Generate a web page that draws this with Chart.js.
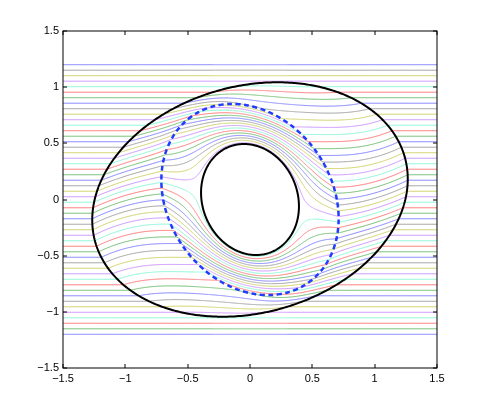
<!DOCTYPE html>
<html>
<head>
<meta charset="utf-8">
<script src="https://cdn.jsdelivr.net/npm/chart.js@4.4.1/dist/chart.umd.min.js"></script>
<style>
html, body { margin: 0; padding: 0; background: #fff; }
#wrap { width: 485px; height: 415px; }
</style>
</head>
<body>
<div id="wrap"><canvas id="streamChart" width="485" height="415"></canvas></div>
<script>
// far-field heights of the 50 streamlines, bottom to top
const levels = [
    -1.2, -1.151, -1.102, -1.0531, -1.0041, -0.9551, -0.9061, -0.8571, -0.8082, -0.7592,
    -0.7102, -0.6612, -0.6122, -0.5633, -0.5143, -0.4653, -0.4163, -0.3673, -0.3184, -0.2694,
    -0.2204, -0.1714, -0.1224, -0.0735, -0.0245, 0.0245, 0.0735, 0.1224, 0.1714, 0.2204,
    0.2694, 0.3184, 0.3673, 0.4163, 0.4653, 0.5143, 0.5633, 0.6122, 0.6612, 0.7102,
    0.7592, 0.8082, 0.8571, 0.9061, 0.9551, 1.0041, 1.0531, 1.102, 1.151, 1.2
];
// colour cycle b g r c m y k, starting with the lowest line
const lineColors = ['#7878ff', '#66b866', '#ff6e6e', '#80f5d2', '#c78cff', '#cccc5c', '#999999'];

// ellipses: [semi-axis along the angle, other semi-axis, angle in degrees]
const outerEllipse = [1.30, 1.00, 21];
const dashedEllipse = [0.672, 0.882, 24];
const innerEllipse = [0.385, 0.50, 14];
// twist of the field between the outer and the dashed ellipse (degrees)
const twistDeg = 14;

const xTicks = [-1.5, -1, -0.5, 0, 0.5, 1, 1.5];
const yTicks = [-1.5, -1, -0.5, 0, 0.5, 1, 1.5];

// distance from the centre to an ellipse along direction th
function radius(e, th) {
    const t = th - e[2] * Math.PI / 180;
    const c = Math.cos(t) / e[0];
    const s = Math.sin(t) / e[1];
    return 1 / Math.sqrt(c * c + s * s);
}

// maps a point of the straight (virtual) field into the drawn plane
function toPhysical(qx, qy) {
    const rho = Math.hypot(qx, qy);
    const th = Math.atan2(qy, qx);
    const r3 = radius(outerEllipse, th);
    if (rho >= r3) return [qx, qy];
    const phi = twistDeg * Math.PI / 180;
    const rv2 = radius(dashedEllipse, th - phi);
    let tp, rp;
    if (rho >= rv2) {
        const s = (rho - rv2) / (r3 - rv2);
        tp = th - phi * (1 - s);
        const a = radius(dashedEllipse, tp);
        rp = a + s * (radius(outerEllipse, tp) - a);
    } else {
        const sig = rho / rv2;
        tp = th - phi;
        const a = radius(innerEllipse, tp);
        rp = a + sig * (radius(dashedEllipse, tp) - a);
    }
    return [rp * Math.cos(tp), rp * Math.sin(tp)];
}

function streamline(y0) {
    const pts = [];
    let x = -1.5;
    while (x <= 1.5001) {
        const p = toPhysical(x, y0);
        pts.push({ x: p[0], y: p[1] });
        x += Math.abs(x) < 0.3 ? 0.001 : 0.01;
    }
    return pts;
}

function ellipsePoints(e) {
    const pts = [];
    for (let k = 0; k <= 360; k++) {
        const th = k * Math.PI / 180;
        const r = radius(e, th);
        pts.push({ x: r * Math.cos(th), y: r * Math.sin(th) });
    }
    return pts;
}

const datasets = [
    { data: ellipsePoints(innerEllipse), borderColor: '#000', borderWidth: 2 },
    { data: ellipsePoints(outerEllipse), borderColor: '#000', borderWidth: 2 },
    { data: ellipsePoints(dashedEllipse), borderColor: '#1f3cff', borderWidth: 2.5, borderDash: [5, 3.5] }
];
levels.forEach((y0, i) => {
    datasets.push({
        data: streamline(y0),
        borderColor: lineColors[i % lineColors.length],
        borderWidth: 1
    });
});

// MATLAB-like box with inward ticks on all four sides
const frameTicks = {
    id: 'frameTicks',
    afterDraw(chart) {
        const { ctx, chartArea: a, scales: { x, y } } = chart;
        ctx.save();
        ctx.strokeStyle = '#000';
        ctx.lineWidth = 1;
        ctx.strokeRect(a.left, a.top, a.right - a.left, a.bottom - a.top);
        ctx.beginPath();
        xTicks.forEach(v => {
            const px = Math.round(x.getPixelForValue(v));
            ctx.moveTo(px, a.bottom); ctx.lineTo(px, a.bottom - 4);
            ctx.moveTo(px, a.top); ctx.lineTo(px, a.top + 4);
        });
        yTicks.forEach(v => {
            const py = Math.round(y.getPixelForValue(v));
            ctx.moveTo(a.left, py); ctx.lineTo(a.left + 4, py);
            ctx.moveTo(a.right, py); ctx.lineTo(a.right - 4, py);
        });
        ctx.stroke();
        ctx.restore();
    }
};

const fmt = v => (v < 0 ? '\u2212' : '') + Math.abs(v);
const tickFont = { family: "'Liberation Sans', Arial, Helvetica, sans-serif", size: 11 };

new Chart(document.getElementById('streamChart').getContext('2d'), {
    type: 'scatter',
    data: { datasets: datasets },
    options: {
        responsive: false,
        animation: false,
        events: [],
        showLine: true,
        layout: { padding: { left: 0, right: 48, top: 31, bottom: 0 } },
        elements: {
            point: { radius: 0 },
            // a tiny tension keeps Chart.js off its x-sorted fast path, so closed curves stay round
            line: { tension: 0.000001, fill: false, borderJoinStyle: 'round' }
        },
        plugins: {
            legend: { display: false },
            tooltip: { enabled: false }
        },
        scales: {
            x: {
                type: 'linear',
                min: -1.5,
                max: 1.5,
                afterBuildTicks: s => { s.ticks = xTicks.map(v => ({ value: v })); },
                afterFit: s => { s.height = 47; },
                grid: { display: false, drawTicks: false },
                border: { display: false },
                ticks: { padding: 4, color: '#000', font: tickFont, maxRotation: 0, autoSkip: false, callback: fmt }
            },
            y: {
                type: 'linear',
                min: -1.5,
                max: 1.5,
                afterBuildTicks: s => { s.ticks = yTicks.map(v => ({ value: v })); },
                afterFit: s => { s.width = 63; },
                grid: { display: false, drawTicks: false },
                border: { display: false },
                ticks: { padding: 4, color: '#000', font: tickFont, autoSkip: false, callback: fmt }
            }
        }
    },
    plugins: [frameTicks]
});
</script>
</body>
</html>
